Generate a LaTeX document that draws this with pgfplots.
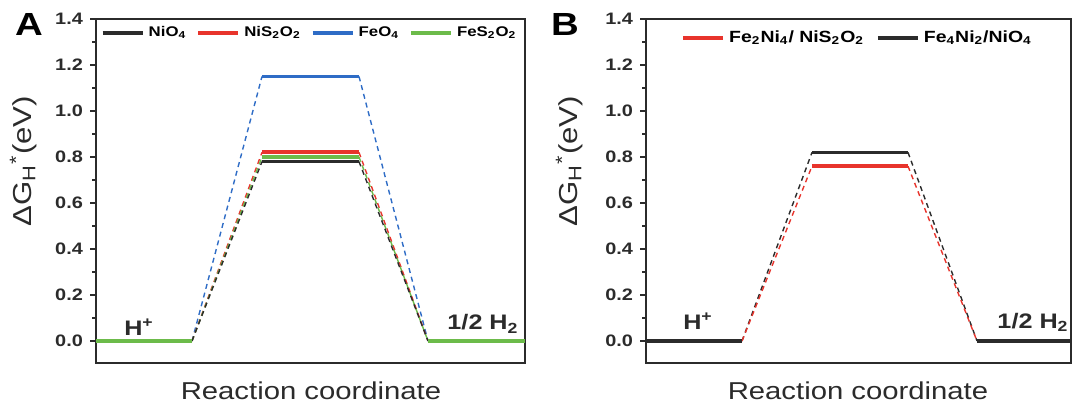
\documentclass[border=0pt]{standalone}
\usepackage{fontspec}
\setmainfont[FakeStretch=1.2]{Liberation Sans}
\usepackage{pgfplots}
\pgfplotsset{compat=1.18}
\definecolor{cblk}{HTML}{2B2B2B}
\definecolor{cred}{HTML}{E8342C}
\definecolor{cblue}{HTML}{2E6CC6}
\definecolor{cgreen}{HTML}{6CBB4A}
\pgfplotsset{
  energy/.style={
    scale only axis, height=172pt,
    xmin=0, ymin=-0.0957, ymax=1.4,
    axis line style={cblk, line width=1pt},
    xtick=\empty,
    ytick={0,0.2,0.4,0.6,0.8,1.0,1.2,1.4},
    minor y tick num=1,
    tick align=outside, ytick pos=left,
    major tick length=3pt, minor tick length=1.8pt,
    tick style={cblk, line width=0.8pt},
    yticklabel style={font=\bfseries\fontsize{8.3}{9}\selectfont, text=cblk},
    /pgf/number format/fixed, /pgf/number format/fixed zerofill,
    /pgf/number format/precision=1, /pgf/number format/assume math mode=true,
    legend style={draw=none, fill=none, anchor=center,
      /tikz/every even column/.append style={column sep=3pt}},
    legend columns=-1,
    legend image code/.code={\draw[#1, line width=2pt] (0pt,0pt) -- (20pt,0pt);},
    clip=false,
  },
}
\tikzset{
  level/.style={line width=1.9pt},
  conn/.style={line width=0.7pt, dash pattern=on 2.5pt off 2pt},
  lbl/.style={font=\bfseries\fontsize{10.5}{12}\selectfont, text=cblk, anchor=base},
}
\begin{document}
\begin{tikzpicture}
\path[use as bounding box] (0,0) rectangle (540pt,203pt);

% ---------- panel A ----------
\begin{axis}[energy, at={(48pt,21.5pt)}, anchor=south west,
    width=214.5pt, xmax=429,
    legend style={at={(0.5,0.959)}, font=\bfseries\fontsize{7}{8}\selectfont}]
\addlegendimage{cblk}\addlegendentry{NiO\textsubscript{4}}
\addlegendimage{cred}\addlegendentry{NiS\textsubscript{2}O\textsubscript{2}}
\addlegendimage{cblue}\addlegendentry{FeO\textsubscript{4}}
\addlegendimage{cgreen}\addlegendentry{FeS\textsubscript{2}O\textsubscript{2}}
% connectors
\addplot[forget plot, cblue, conn] coordinates {(96,0) (166,1.15)};
\addplot[forget plot, cblue, conn] coordinates {(263,1.15) (332,0)};
\addplot[forget plot, cred, conn] coordinates {(96,0) (166,0.82)};
\addplot[forget plot, cred, conn] coordinates {(263,0.82) (332,0)};
\addplot[forget plot, cgreen, conn] coordinates {(96,0) (166,0.80)};
\addplot[forget plot, cgreen, conn] coordinates {(263,0.80) (332,0)};
\addplot[forget plot, cblk, conn] coordinates {(96,0) (166,0.78)};
\addplot[forget plot, cblk, conn] coordinates {(263,0.78) (332,0)};
% intermediate levels
\addplot[forget plot, cblue, level] coordinates {(166,1.15) (263,1.15)};
\addplot[forget plot, cred, level] coordinates {(166,0.82) (263,0.82)};
\addplot[forget plot, cgreen, level] coordinates {(166,0.80) (263,0.80)};
\addplot[forget plot, cblk, level] coordinates {(166,0.78) (263,0.78)};
% initial / final states
\addplot[forget plot, cgreen, level] coordinates {(0,0) (96,0)};
\addplot[forget plot, cgreen, level] coordinates {(332,0) (429,0)};
\node[lbl] at (axis cs:43,0.026) {H\textsuperscript{+}};
\node[lbl] at (axis cs:387,0.048) {1/2 H\textsubscript{2}};
\end{axis}

% ---------- panel B ----------
\begin{axis}[energy, at={(323pt,21.5pt)}, anchor=south west,
    width=212.5pt, xmax=425,
    legend style={at={(0.5,0.945)}, font=\bfseries\fontsize{8.1}{9}\selectfont,
      /tikz/every even column/.append style={column sep=4pt}}]
\addlegendimage{cred}\addlegendentry{Fe\textsubscript{2}Ni\textsubscript{4}/ NiS\textsubscript{2}O\textsubscript{2}}
\addlegendimage{cblk}\addlegendentry{Fe\textsubscript{4}Ni\textsubscript{2}/NiO\textsubscript{4}}
\addplot[forget plot, cblk, conn] coordinates {(96,0) (166,0.82)};
\addplot[forget plot, cblk, conn] coordinates {(262,0.82) (331,0)};
\addplot[forget plot, cred, conn] coordinates {(96,0) (166,0.76)};
\addplot[forget plot, cred, conn] coordinates {(262,0.76) (331,0)};
\addplot[forget plot, cblk, line width=1.5pt] coordinates {(166,0.82) (262,0.82)};
\addplot[forget plot, cred, level] coordinates {(166,0.76) (262,0.76)};
\addplot[forget plot, cblk, level] coordinates {(0,0) (96,0)};
\addplot[forget plot, cblk, level] coordinates {(331,0) (425,0)};
\node[lbl] at (axis cs:52,0.05) {H\textsuperscript{+}};
\node[lbl] at (axis cs:387,0.056) {1/2 H\textsubscript{2}};
\end{axis}

% ---------- outer labels ----------
\foreach \xa/\xl/\xp/\pl in {15.5/155.5/14.5/A, 288.5/429/282.5/B}{
  \node[rotate=90, anchor=base, text=cblk, font=\fontsize{13}{15}\selectfont]
    at (\xa pt,122.5pt) {ΔG\textsubscript{H}\textsuperscript{*}(eV)};
  \node[anchor=base, text=cblk, font=\fontsize{12.2}{15}\selectfont]
    at (\xl pt,3pt) {Reaction coordinate};
  \node[anchor=base, font=\bfseries\fontsize{16}{18}\selectfont]
    at (\xp pt,185pt) {\pl};
}
\end{tikzpicture}
\end{document}
